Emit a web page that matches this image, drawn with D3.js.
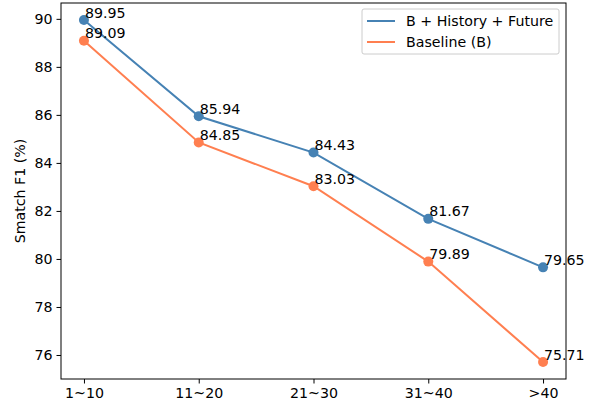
<!DOCTYPE html>
<html>
<head>
<meta charset="utf-8">
<script src="https://cdn.jsdelivr.net/npm/d3@7"></script>
<style>
  body { margin: 0; background: #fff; }
  svg { display: block; font-family: "DejaVu Sans", sans-serif; }
</style>
</head>
<body>
<svg></svg>
<script>
// data
const categories = ["1~10", "11~20", "21~30", "31~40", ">40"];
const seriesNames = ["B + History + Future", "Baseline (B)"];
const historyFuture = [89.95, 85.94, 84.43, 81.67, 79.65];
const baseline = [89.09, 84.85, 83.03, 79.89, 75.71];
const yTicks = [76, 78, 80, 82, 84, 86, 88, 90];

const width = 595, height = 409;
const margin = { top: 3, right: 29, bottom: 30, left: 61 };
const colors = ["#4682b4", "#ff7f50"];
const fontSize = 14.2;

const svg = d3.select("svg").attr("width", width).attr("height", height);

const x = d3.scalePoint()
  .domain(categories)
  .range([margin.left, width - margin.right])
  .padding(0.2);

const y = d3.scaleLinear()
  .domain([75.0, 90.66])
  .range([height - margin.bottom, margin.top]);

// axes
const xAxis = svg.append("g")
  .attr("transform", `translate(0,${height - margin.bottom})`)
  .call(d3.axisBottom(x).tickSizeOuter(0).tickSize(4.5).tickPadding(4));
const yAxis = svg.append("g")
  .attr("transform", `translate(${margin.left},0)`)
  .call(d3.axisLeft(y).tickValues(yTicks).tickSizeOuter(0).tickSize(4.5).tickPadding(4));

[xAxis, yAxis].forEach(a => {
  a.selectAll("text").attr("font-size", fontSize).attr("font-family", "DejaVu Sans").attr("fill", "#000");
  a.selectAll("line").attr("stroke", "#000").attr("stroke-width", 1);
  a.select(".domain").remove();
});

// frame
svg.append("rect")
  .attr("x", margin.left).attr("y", margin.top)
  .attr("width", width - margin.left - margin.right)
  .attr("height", height - margin.top - margin.bottom)
  .attr("fill", "none").attr("stroke", "#000").attr("stroke-width", 1);

// y label
svg.append("text")
  .attr("transform", `translate(25,${(margin.top + height - margin.bottom) / 2}) rotate(-90)`)
  .attr("text-anchor", "middle")
  .attr("font-size", fontSize)
  .text("Smatch F1 (%)");

// lines, points, labels
const line = d3.line().x((d, i) => x(categories[i])).y(d => y(d));
[historyFuture, baseline].forEach((vals, k) => {
  svg.append("path")
    .attr("d", line(vals))
    .attr("fill", "none")
    .attr("stroke", colors[k])
    .attr("stroke-width", 2);
  svg.selectAll(null).data(vals).enter().append("circle")
    .attr("cx", (d, i) => x(categories[i]))
    .attr("cy", d => y(d))
    .attr("r", 5)
    .attr("fill", colors[k]);
  svg.selectAll(null).data(vals).enter().append("text")
    .attr("x", (d, i) => x(categories[i]) + 1)
    .attr("y", d => y(d + 0.1))
    .attr("font-size", fontSize)
    .text(d => d.toFixed(2));
});

// legend
const legend = svg.append("g").attr("transform", "translate(362,9)");
legend.append("rect")
  .attr("width", 197).attr("height", 45).attr("rx", 2)
  .attr("fill", "#fff").attr("fill-opacity", 0.8)
  .attr("stroke", "#ccc").attr("stroke-width", 1);
seriesNames.forEach((name, k) => {
  const g = legend.append("g").attr("transform", `translate(0,${12 + k * 21})`);
  g.append("line").attr("x1", 5).attr("x2", 33).attr("y1", 0).attr("y2", 0)
    .attr("stroke", colors[k]).attr("stroke-width", 2);
  g.append("text").attr("x", 44).attr("y", 5)
    .attr("font-size", fontSize).text(name);
});
</script>
</body>
</html>
